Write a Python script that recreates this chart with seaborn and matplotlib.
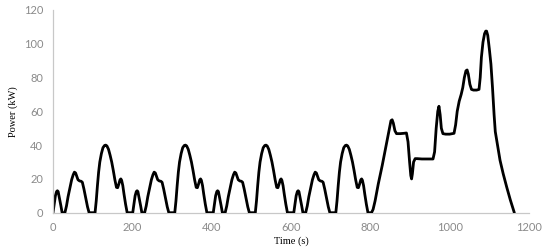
import matplotlib
matplotlib.use("Agg")
import matplotlib.pyplot as plt
import seaborn as sns
import pandas as pd

# urban cycle 1
time_c1 = [0, 3, 6, 9, 11, 13, 16, 20, 23, 30, 34, 38, 43, 47, 51, 54, 57, 60, 63, 67, 71, 74,
           78, 83, 87, 91, 106, 109, 112, 115, 118, 122, 126, 130, 133, 136, 140, 144, 148, 152,
           156, 160, 163, 166, 169, 171, 173, 176, 179, 183, 187]
power_c1 = [0, 5, 10, 12.5, 13, 12.5, 9, 4, 0, 0, 4, 9.5, 15, 19.5, 22.5, 24, 23.5, 21.5, 19.5,
            18.8, 18.6, 18, 14, 8, 3.5, 0, 0, 7, 16, 24, 30, 35, 38.5, 39.8, 40, 39.5, 37.5, 34,
            30, 25, 19.5, 15, 14.8, 17, 19.5, 20, 19.2, 16, 11, 5, 0]

# urban cycle 2
time_c2 = [201, 204, 207, 210, 212, 214, 217, 221, 224, 231, 235, 239, 244, 248, 252, 255, 258,
           261, 264, 268, 272, 275, 279, 284, 288, 292, 307, 310, 313, 316, 319, 323, 327, 331,
           334, 337, 341, 345, 349, 353, 357, 361, 364, 367, 370, 372, 374, 377, 380, 384, 388]
power_c2 = [0, 5, 10, 12.5, 13, 12.5, 9, 4, 0, 0, 4, 9.5, 15, 19.5, 22.5, 24, 23.5, 21.5, 19.5,
            18.8, 18.6, 18, 14, 8, 3.5, 0, 0, 7, 16, 24, 30, 35, 38.5, 39.8, 40, 39.5, 37.5, 34,
            30, 25, 19.5, 15, 14.8, 17, 19.5, 20, 19.2, 16, 11, 5, 0]

# urban cycle 3
time_c3 = [404, 407, 410, 413, 415, 417, 420, 424, 427, 434, 438, 442, 447, 451, 455, 458, 461,
           464, 467, 471, 475, 478, 482, 487, 491, 495, 510, 513, 516, 519, 522, 526, 530, 534,
           537, 540, 544, 548, 552, 556, 560, 564, 567, 570, 573, 575, 577, 580, 583, 587, 591]
power_c3 = [0, 5, 10, 12.5, 13, 12.5, 9, 4, 0, 0, 4, 9.5, 15, 19.5, 22.5, 24, 23.5, 21.5, 19.5,
            18.8, 18.6, 18, 14, 8, 3.5, 0, 0, 7, 16, 24, 30, 35, 38.5, 39.8, 40, 39.5, 37.5, 34,
            30, 25, 19.5, 15, 14.8, 17, 19.5, 20, 19.2, 16, 11, 5, 0]

# urban cycle 4
time_c4 = [607, 610, 613, 616, 618, 620, 623, 627, 630, 637, 641, 645, 650, 654, 658, 661, 664,
           667, 670, 674, 678, 681, 685, 690, 694, 698, 713, 716, 719, 722, 725, 729, 733, 737,
           740, 743, 747, 751, 755, 759, 763, 767, 770, 773, 776, 778, 780, 783, 786, 790, 794]
power_c4 = [0, 5, 10, 12.5, 13, 12.5, 9, 4, 0, 0, 4, 9.5, 15, 19.5, 22.5, 24, 23.5, 21.5, 19.5,
            18.8, 18.6, 18, 14, 8, 3.5, 0, 0, 7, 16, 24, 30, 35, 38.5, 39.8, 40, 39.5, 37.5, 34,
            30, 25, 19.5, 15, 14.8, 17, 19.5, 20, 19.2, 16, 11, 5, 0]

# extra-urban part
time_eu = [803, 807, 812, 820, 830, 840, 845, 849, 852, 855, 858, 862, 866, 875, 885, 891, 895,
           899, 902, 904, 906, 909, 913, 918, 930, 945, 958, 962, 966, 970, 973, 976, 979, 983,
           990, 1000, 1011, 1015, 1019, 1024, 1029, 1033, 1037, 1041, 1044, 1047, 1051, 1055,
           1060, 1068, 1074, 1077, 1080, 1084, 1088, 1091, 1093, 1096, 1100, 1104, 1108, 1112,
           1115, 1120, 1127, 1135, 1144, 1153, 1163]
power_eu = [0, 2, 7, 17, 28, 40, 46, 51, 54.5, 55, 53, 48.5, 46.8, 46.8, 47, 47.2, 42, 30, 22,
            20, 23, 30, 32, 32, 31.8, 31.8, 31.8, 36, 50, 60, 63, 58, 50, 46.8, 46.5, 46.5, 47,
            52, 60, 66, 70, 74, 80, 84, 84.5, 82, 76, 73, 72.6, 72.6, 73, 80, 92, 101, 106,
            107.5, 107.5, 105, 97, 88, 74, 58, 48, 41, 31, 23, 15, 7.5, 0]

x_ticks = [0, 200, 400, 600, 800, 1000, 1200]
y_ticks = [0, 20, 40, 60, 80, 100, 120]

df = pd.DataFrame({
    "Time": time_c1 + time_c2 + time_c3 + time_c4 + time_eu,
    "Power": power_c1 + power_c2 + power_c3 + power_c4 + power_eu,
})

sns.set_theme(style="white")
fig = plt.figure(figsize=(5.5, 2.52), dpi=100)
ax = fig.add_axes([53 / 550, 1 - 212.7 / 252, 476 / 550, 202.7 / 252])

sns.lineplot(data=df, x="Time", y="Power", ax=ax, color="black", linewidth=2.0,
             solid_joinstyle="round", solid_capstyle="round")

ax.set_xlim(0, 1200)
ax.set_ylim(0, 120)
ax.set_xticks(x_ticks)
ax.set_yticks(y_ticks)
for side in ["top", "right"]:
    ax.spines[side].set_visible(False)
for side in ["left", "bottom"]:
    ax.spines[side].set_color("#c8c8c8")
    ax.spines[side].set_linewidth(0.9)
ax.spines["bottom"].set_zorder(0)
ax.tick_params(axis="both", length=0, pad=7, labelsize=8, labelcolor="#8a8a8a")
for lab in ax.get_xticklabels() + ax.get_yticklabels():
    lab.set_family("Lato")

ax.set_xlabel("Time (s)", family="Liberation Serif", fontsize=7.5, color="black", labelpad=2)
ax.set_ylabel("Power (kW)", family="Liberation Serif", fontsize=7.5, color="black", labelpad=4)

fig.savefig("out.png", dpi=100)
